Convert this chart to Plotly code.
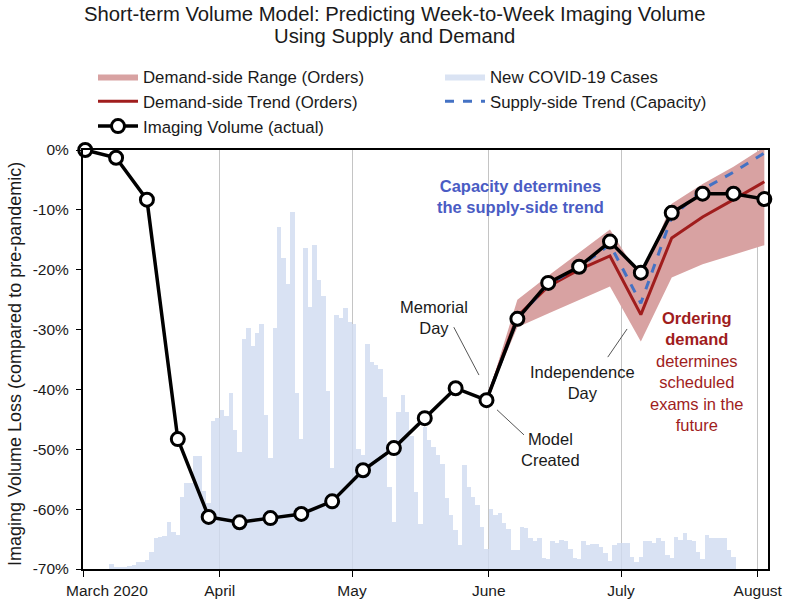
import plotly.graph_objects as go
import pandas as pd

# ---------------- data ----------------
week_dates = ["2020-03-01", "2020-03-08", "2020-03-15", "2020-03-22", "2020-03-29",
              "2020-04-05", "2020-04-12", "2020-04-19", "2020-04-26", "2020-05-03",
              "2020-05-10", "2020-05-17", "2020-05-24", "2020-05-31", "2020-06-07",
              "2020-06-14", "2020-06-21", "2020-06-28", "2020-07-05", "2020-07-12",
              "2020-07-19", "2020-07-26", "2020-08-02"]
imaging_volume = [0.0, -1.3, -8.3, -48.3, -61.3, -62.2, -61.5, -60.8, -58.7, -53.5,
                  -49.8, -44.8, -39.8, -41.8, -28.2, -22.2, -19.5, -15.3, -20.5, -10.5,
                  -7.3, -7.3, -8.2]

model_dates = ["2020-05-31", "2020-06-07", "2020-06-14", "2020-06-21", "2020-06-28",
               "2020-07-05", "2020-07-12", "2020-07-19", "2020-07-26", "2020-08-02"]
demand_trend = [-41.8, -27.8, -22.8, -20.0, -17.7, -27.5, -14.7, -11.2, -8.3, -5.3]
demand_upper = [-41.8, -25.0, -21.0, -17.1, -13.3, -21.5, -9.0, -5.7, -2.8, 0.5]
demand_lower = [-41.8, -29.6, -27.3, -25.0, -22.8, -32.0, -21.3, -19.1, -17.5, -15.9]
supply_trend = [-41.8, -28.2, -22.4, -19.6, -15.8, -25.6, -11.2, -6.6, -3.7, -0.5]

# daily new COVID-19 cases (relative index, 0-70 scale), starting 2020-03-01
covid_start = "2020-03-01"
covid_cases = [0, 0, 0, 0, 0, 0, 0.8, 0.4, 0.3, 0.3,
               0.5, 0.6, 1.2, 1.2, 1.5, 2.9, 5.1, 5.3, 5.5, 7.8,
               6.2, 5.7, 12.0, 14.3, 14.4, 18.8, 18.8, 13.0, 11.0, 24.8,
               25.2, 26.5, 25.6, 29.4, 23.2, 19.6, 38.4, 40.3, 37.2, 39.4,
               40.9, 25.8, 18.6, 40.2, 57.2, 51.9, 47.6, 59.7, 29.4, 21.8,
               53.7, 43.7, 54.2, 48.2, 45.6, 29.8, 16.9, 42.5, 42.0, 43.6,
               41.3, 41.0, 20.0, 19.0, 37.6, 34.6, 34.0, 33.4, 28.7, 13.7,
               7.9, 26.2, 29.0, 26.2, 22.3, 12.9, 7.6, 23.7, 21.5, 20.4,
               19.0, 17.6, 11.9, 9.0, 6.5, 4.0, 17.3, 13.7, 12.0, 10.7,
               7.0, 3.3, 10.1, 9.1, 9.3, 7.7, 6.6, 3.1, 3.1, 7.1,
               6.8, 5.1, 4.7, 5.1, 1.9, 1.6, 4.6, 4.3, 4.9, 4.7,
               3.4, 1.8, 1.6, 4.6, 4.0, 4.2, 4.2, 3.7, 2.6, 1.4,
               4.0, 4.3, 4.4, 4.4, 2.0, 1.2, 2.0, 4.7, 4.6, 4.4,
               5.1, 4.6, 2.3, 1.8, 5.3, 4.8, 6.0, 4.9, 4.6, 2.9,
               1.6, 5.7, 5.2, 5.2, 5.2, 5.2, 3.2, 2.0]

month_ticks = ["2020-03-01", "2020-04-01", "2020-05-01", "2020-06-01", "2020-07-01", "2020-08-01"]
month_labels = ["March 2020", "April", "May", "June", "July", "August"]
y_tick_vals = [0, -10, -20, -30, -40, -50, -60, -70]
y_tick_text = ["0%", "-10%", "-20%", "-30%", "-40%", "-50%", "-60%", "-70%"]
title_lines = ["Short-term Volume Model: Predicting Week-to-Week Imaging Volume",
               "Using Supply and Demand"]
y_title = "Imaging Volume Loss (compared to pre-pandemic)"

# ---------------- styling ----------------
FONT = "Arial, Liberation Sans, sans-serif"
TXT = "#1a1a1a"
RED = "#a01d1d"
BLUE_TXT = "#4a5cc4"
BLUE_LINE = "#4472c4"
PINK = "rgb(216,162,162)"
LIGHTBLUE = "rgba(209,220,240,0.82)"
NOON = pd.Timedelta(hours=12)

wk = pd.to_datetime(week_dates) + NOON
md = pd.to_datetime(model_dates) + NOON
cd = pd.date_range(covid_start, periods=len(covid_cases), freq="D") + NOON

fig = go.Figure()

# bars on the base (hidden) axis so they are drawn beneath everything else
fig.add_trace(go.Bar(x=cd, y=covid_cases, yaxis="y", marker_color=LIGHTBLUE,
                     marker_line_width=0, width=86400000, showlegend=False,
                     name="New COVID-19 Cases", hoverinfo="skip"))

fig.add_trace(go.Scatter(x=md, y=demand_lower, yaxis="y2", mode="lines",
                         line=dict(width=0, color=PINK), showlegend=False, hoverinfo="skip"))
fig.add_trace(go.Scatter(x=md, y=demand_upper, yaxis="y2", mode="lines",
                         line=dict(width=0, color=PINK), fill="tonexty", fillcolor=PINK,
                         name="Demand-side Range (Orders)", legend="legend", legendrank=1))
fig.add_trace(go.Scatter(x=md, y=demand_trend, yaxis="y2", mode="lines",
                         line=dict(width=3, color=RED),
                         name="Demand-side Trend (Orders)", legend="legend", legendrank=2))
fig.add_trace(go.Scatter(x=md, y=supply_trend, yaxis="y2", mode="lines",
                         line=dict(width=3, color=BLUE_LINE, dash="dash"),
                         name="Supply-side Trend (Capacity)", legend="legend2", legendrank=2))
fig.add_trace(go.Scatter(x=wk, y=imaging_volume, yaxis="y2", mode="lines+markers",
                         line=dict(width=3.5, color="black"),
                         marker=dict(size=13, color="white", line=dict(width=3, color="black")),
                         cliponaxis=False, name="Imaging Volume (actual)",
                         legend="legend", legendrank=3))
# legend swatch for the bars (rectangular swatch like the original)
fig.add_trace(go.Scatter(x=[wk[0]], y=[None], yaxis="y2", mode="lines",
                         line=dict(width=0, color=LIGHTBLUE), fill="toself",
                         fillcolor="rgb(218,227,243)", name="New COVID-19 Cases",
                         legend="legend2", legendrank=1, hoverinfo="skip"))

# connector lines for labels
connectors = [
    (("2020-05-24 02:00", -29.6), ("2020-05-29 19:00", -37.6)),
    (("2020-06-02 21:00", -43.4), ("2020-06-09 00:00", -47.6)),
    (("2020-06-28 00:00", -34.6), ("2020-07-02 09:00", -29.9)),
]
for (x0, y0), (x1, y1) in connectors:
    fig.add_shape(type="line", x0=x0, y0=y0, x1=x1, y1=y1, xref="x", yref="y2",
                  line=dict(color="#555555", width=1))

labels = [
    ("2020-06-08 07:00", -7.8, "<b>Capacity determines<br>the supply-side trend</b>", BLUE_TXT),
    ("2020-05-19 14:00", -28.0, "Memorial<br>Day", TXT),
    ("2020-06-14 22:00", -50.0, "Model<br>Created", TXT),
    ("2020-06-22 04:00", -38.8, "Independence<br>Day", TXT),
    ("2020-07-18 03:00", -37.0,
     "<b>Ordering<br>demand</b><br>determines<br>scheduled<br>exams in the<br>future", RED),
]
for x, y, t, c in labels:
    fig.add_annotation(x=x, y=y, xref="x", yref="y2", text=t, showarrow=False,
                       font=dict(family=FONT, size=16.5, color=c), align="center")

# title lines, y-axis title and the first (offset) month label
PLOT_T, PLOT_H, PLOT_L, PLOT_W = 150, 419, 83, 685
for line, ypx in zip(title_lines, [14, 36]):
    fig.add_annotation(text=line, xref="paper", yref="paper", showarrow=False,
                       x=(394 - PLOT_L) / PLOT_W, y=1 + (PLOT_T - ypx) / PLOT_H,
                       xanchor="center", yanchor="middle",
                       font=dict(family=FONT, size=20.3, color=TXT))
fig.add_annotation(text=y_title, xref="paper", yref="paper", showarrow=False, textangle=-90,
                   x=(15 - PLOT_L) / PLOT_W, y=(569 - 364) / PLOT_H,
                   xanchor="center", yanchor="middle",
                   font=dict(family=FONT, size=18, color=TXT))
fig.add_annotation(text=month_labels[0], xref="paper", yref="paper", showarrow=False,
                   x=(107 - PLOT_L) / PLOT_W, y=(569 - 590) / PLOT_H,
                   xanchor="center", yanchor="middle",
                   font=dict(family=FONT, size=15.5, color=TXT))

LEG_FONT = dict(family=FONT, size=16.8, color=TXT)
fig.update_layout(
    width=788, height=603,
    paper_bgcolor="white", plot_bgcolor="white",
    margin=dict(l=83, r=20, t=150, b=34, autoexpand=False),
    font=dict(family=FONT, size=15, color=TXT),
    bargap=0,
    legend=dict(x=93 / 788, xref="container", y=1 - 59 / 603, yref="container",
                xanchor="left", yanchor="top", orientation="v", itemwidth=40,
                font=LEG_FONT, bgcolor="rgba(0,0,0,0)", traceorder="normal"),
    legend2=dict(x=440 / 788, xref="container", y=1 - 59 / 603, yref="container",
                 xanchor="left", yanchor="top", orientation="v", itemwidth=40,
                 font=LEG_FONT, bgcolor="rgba(0,0,0,0)", traceorder="normal"),
    xaxis=dict(type="date", range=["2020-03-01", "2020-08-03 08:00"],
               tickvals=month_ticks, ticktext=[""] + month_labels[1:],
               ticks="outside", ticklen=6,
               tickcolor="black", showline=True, linecolor="black", linewidth=2, mirror=True,
               showgrid=True, gridcolor="#c4c4c4", gridwidth=1, zeroline=False,
               tickfont=dict(family=FONT, size=15.5, color=TXT)),
    yaxis=dict(range=[0, 70], visible=False, fixedrange=True),
    yaxis2=dict(range=[-70, 0], overlaying="y", side="left",
                tickvals=y_tick_vals, ticktext=y_tick_text, ticks="outside",
                ticklen=5, tickcolor="black", showline=True, linecolor="black", linewidth=2,
                mirror=True, showgrid=False, zeroline=False, ticklabelstandoff=4,
                tickfont=dict(family=FONT, size=15.5, color=TXT)),
)

fig.write_html("out.html", config={"displayModeBar": False},
               post_script="document.body.style.margin='0';")
